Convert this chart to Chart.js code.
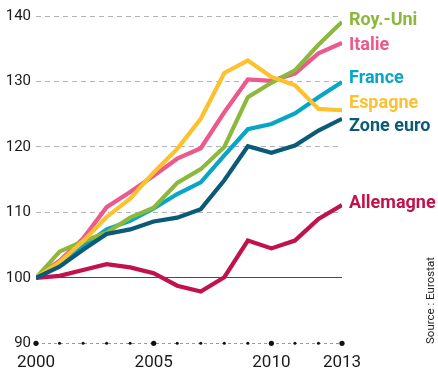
<!DOCTYPE html>
<html>
<head>
<meta charset="utf-8">
<script src="https://cdn.jsdelivr.net/npm/chart.js@4.4.1/dist/chart.umd.min.js"></script>
<style>
html, body { margin: 0; padding: 0; background: #fff; }
canvas { display: block; }
</style>
</head>
<body>
<canvas id="chart" width="438" height="372"></canvas>
<script>
// indice base 100 en 2000
var years = [2000, 2001, 2002, 2003, 2004, 2005, 2006, 2007, 2008, 2009, 2010, 2011, 2012, 2013];
var royUni    = [100, 104.0, 105.6, 106.9, 109.2, 110.7, 114.5, 116.6, 120.0, 127.6, 129.8, 131.7, 135.6, 139.1];
var italie    = [100, 102.6, 106.0, 110.8, 113.1, 115.6, 118.2, 119.8, 125.3, 130.3, 130.1, 131.2, 134.3, 135.9];
var france    = [100, 101.9, 104.8, 107.4, 108.7, 110.6, 112.8, 114.6, 118.7, 122.7, 123.5, 125.1, 127.6, 129.9];
var espagne   = [100, 102.4, 105.6, 109.3, 112.1, 116.1, 119.7, 124.3, 131.3, 133.2, 130.7, 129.4, 125.8, 125.6];
var zoneEuro  = [100, 101.7, 104.3, 106.7, 107.4, 108.6, 109.2, 110.5, 114.9, 120.1, 119.1, 120.2, 122.5, 124.3];
var allemagne = [100, 100.3, 101.2, 102.1, 101.6, 100.7, 98.8, 97.9, 100.1, 105.7, 104.5, 105.7, 109.0, 111.1];

var seriesNames = ['Roy.-Uni', 'Italie', 'France', 'Espagne', 'Zone euro', 'Allemagne'];
var seriesData = [royUni, italie, france, espagne, zoneEuro, allemagne];
var xTickLabels = [2000, 2005, 2010, 2013];
var yTicks = [90, 100, 110, 120, 130, 140];
var sourceText = 'Source : Eurostat';

// styles
var colors = ['#8cb83b', '#ec5a8d', '#07a6c7', '#fdc12d', '#0b5a77', '#c1124b'];
var labelOffsets = [3.5, 7.5, 1, -2, 12.5, 3]; // px below last point (baseline)
var drawOrder = [2, 3, 4, 1, 0, 0];
var fontFamily = 'Roboto, "Liberation Sans", sans-serif';

var datasets = seriesNames.map(function (name, i) {
    return {
        label: name,
        data: seriesData[i].map(function (v, j) { return { x: years[j], y: v }; }),
        borderColor: colors[i],
        borderWidth: 4.2,
        pointRadius: 0,
        tension: 0,
        fill: false,
        order: drawOrder[i]
    };
});

// axe du bas : points
datasets.push({
    label: 'axis',
    data: years.map(function (y) { return { x: y, y: 90 }; }),
    showLine: false,
    pointRadius: years.map(function (y) { return xTickLabels.indexOf(y) >= 0 ? 2.6 : 1.5; }),
    pointBackgroundColor: '#111',
    pointBorderWidth: 0,
    clip: false,
    order: -1
});

var endLabels = {
    id: 'endLabels',
    beforeDatasetsDraw: function (chart) {
        // ligne pointillée de l'axe à 90
        var ctx = chart.ctx, area = chart.chartArea;
        var y = Math.round(chart.scales.y.getPixelForValue(yTicks[0])) + 0.5;
        ctx.save();
        ctx.strokeStyle = '#9a9a9a';
        ctx.lineWidth = 1;
        ctx.setLineDash([3, 3]);
        ctx.beginPath();
        ctx.moveTo(area.left, y);
        ctx.lineTo(area.right, y);
        ctx.stroke();
        ctx.restore();
    },
    afterDatasetsDraw: function (chart) {
        var ctx = chart.ctx;
        ctx.save();
        ctx.font = 'bold 18px ' + fontFamily;
        ctx.textAlign = 'left';
        ctx.textBaseline = 'alphabetic';
        seriesNames.forEach(function (name, i) {
            var meta = chart.getDatasetMeta(i);
            var pt = meta.data[meta.data.length - 1];
            ctx.fillStyle = colors[i];
            ctx.fillText(name, pt.x + 7, pt.y + labelOffsets[i]);
        });
        // source
        ctx.font = '11.5px ' + fontFamily;
        ctx.fillStyle = '#222';
        ctx.translate(434, 344);
        ctx.rotate(-Math.PI / 2);
        ctx.fillText(sourceText, 0, 0);
        ctx.restore();
    }
};

new Chart(document.getElementById('chart').getContext('2d'), {
    type: 'line',
    data: { datasets: datasets },
    options: {
        responsive: false,
        animation: false,
        devicePixelRatio: 1,
        layout: { padding: { left: 6, right: 96, top: 16, bottom: 2 } },
        plugins: {
            legend: { display: false },
            tooltip: { enabled: false }
        },
        scales: {
            x: {
                type: 'linear',
                min: 2000,
                max: 2013,
                grid: { display: false, drawTicks: false },
                border: { display: false },
                afterBuildTicks: function (scale) {
                    scale.ticks = years.map(function (y) { return { value: y }; });
                },
                afterFit: function (scale) { scale.height = 26.7; },
                ticks: {
                    autoSkip: false,
                    maxRotation: 0,
                    padding: 9,
                    color: '#1a1a1a',
                    font: { family: fontFamily, size: 17 },
                    callback: function (v) { return xTickLabels.indexOf(v) >= 0 ? String(v) : ''; }
                }
            },
            y: {
                min: 90,
                max: 140,
                afterBuildTicks: function (scale) {
                    scale.ticks = yTicks.map(function (v) { return { value: v }; });
                },
                afterFit: function (scale) { scale.width = 30; },
                grid: {
                    drawTicks: false,
                    lineWidth: function (c) { return c.tick && c.tick.value === 90 ? 0 : 1; },
                    color: function (c) { return c.tick && c.tick.value === 100 ? '#4a4a4a' : '#b3b3b3'; }
                },
                border: {
                    display: false,
                    dash: function (c) { return c.tick && c.tick.value === 100 ? [] : [5, 4]; }
                },
                ticks: {
                    padding: 5,
                    color: '#1a1a1a',
                    font: { family: fontFamily, size: 15 }
                }
            }
        }
    },
    plugins: [endLabels]
});
</script>
</body>
</html>
